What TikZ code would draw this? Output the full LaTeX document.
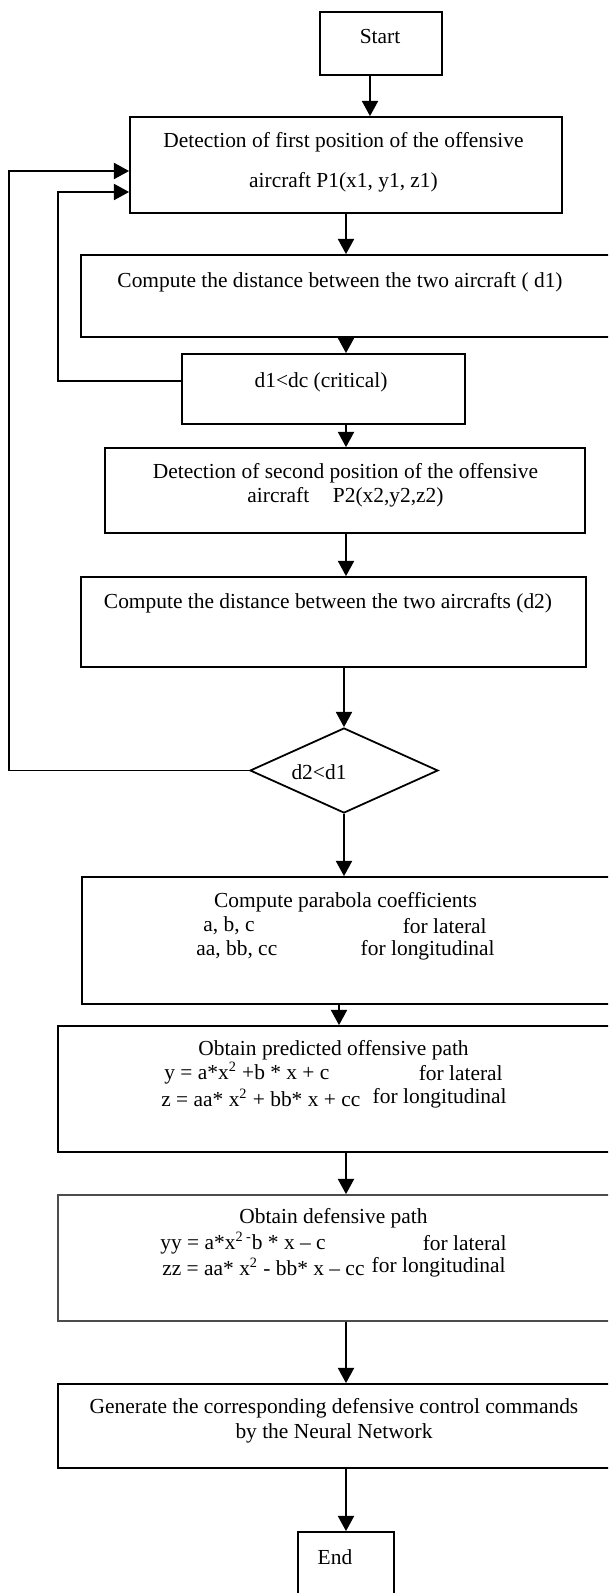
\documentclass[tikz,border=0pt]{standalone}
\usepackage{fontspec}
\setmainfont{Liberation Serif}
\usetikzlibrary{positioning, arrows.meta, shapes.geometric}
\newcommand{\pxu}{0.56pt}

\begin{document}
\begin{tikzpicture}[
		x=\pxu, y=-\pxu,
		box/.style={rectangle, draw, line width=1pt, inner sep=0pt},
		sized/.style 2 args={minimum width=#1*\pxu, minimum height=#2*\pxu},
		decision/.style={diamond, draw, line width=1pt, inner sep=0pt, minimum width=188*\pxu, minimum height=85*\pxu},
		arrow/.style={-{Triangle[length=8.5pt, width=9pt]}, line width=1pt},
		txt/.style={inner sep=0pt, align=center, font=\fontsize{12}{13.5}\selectfont}
		]
		\clip (0,0) rectangle (608,1593);
		% Boxes of the flow
		\node[box, sized={122}{63}] (start) at (381,43.5) {};
		\node[box, sized={432}{96}] (box1) at (346,165) {};
		\node[box, sized={559}{82}] (box2) at (360.5,296) {};
		\node[box, sized={283}{70}] (crit) at (323.5,389) {};
		\node[box, sized={480}{85}] (box3) at (345,490.5) {};
		\node[box, sized={505}{90}] (box4) at (333.5,622) {};
		\node[decision] (dec) at (344,770.5) {};
		\node[box, sized={558}{127}] (box5) at (361,940.5) {};
		\node[box, sized={582}{126}] (box6) at (349,1089) {};
		\node[box, sized={582}{126}, draw=black!70] (box7) at (349,1258) {};
		\node[box, sized={582}{84}] (box8) at (349,1426) {};
		\node[box, sized={96}{88}] (stop) at (346,1576) {};
		% Texts
		\node[txt] (tstart) at (380,37) {Start};
		\node[txt] (t1) at (343.5,162) {Detection of first position of the offensive\\[9pt] aircraft P1(x1, y1, z1)};
		\node[txt] (t2) at (340,282) {Compute the distance between the two aircraft ( d1)};
		\node[txt] (tcrit) at (321,382) {d1<dc (critical)};
		\node[txt] (t3) at (345.5,485) {Detection of second position of the offensive\\ aircraft\hspace{1.1em}P2(x2,y2,z2)};
		\node[txt] (t4) at (328,603) {Compute the distance between the two aircrafts (d2)};
		\node[txt] (tdec) at (319,772) {d2<d1};
		\node[txt] (t5) at (345.5,902) {Compute parabola coefficients};
		\node[txt, anchor=west] (t5a) at (203,926) {a, b, c};
		\node[txt, anchor=east] (t5b) at (487,926) {for lateral};
		\node[txt, anchor=west] (t5c) at (196,950) {aa, bb, cc};
		\node[txt, anchor=east] (t5d) at (495,950) {for longitudinal};
		\node[txt] (t6) at (333.5,1050) {Obtain predicted offensive path};
		\node[txt, anchor=west] (t6a) at (164,1073) {y = a*x\textsuperscript{2} +b * x + c};
		\node[txt, anchor=east] (t6b) at (503,1073) {for lateral};
		\node[txt, anchor=west] (t6c) at (161,1098) {z = aa* x\textsuperscript{2} + bb* x + cc};
		\node[txt, anchor=east] (t6d) at (507,1098) {for longitudinal};
		\node[txt] (t7) at (333.5,1218) {Obtain defensive path};
		\node[txt, anchor=west] (t7a) at (160,1243) {yy = a*x\textsuperscript{2 -}b * x – c};
		\node[txt, anchor=east] (t7b) at (507,1243) {for lateral};
		\node[txt, anchor=west] (t7c) at (162,1267) {zz = aa* x\textsuperscript{2} - bb* x – cc};
		\node[txt, anchor=east] (t7d) at (506,1267) {for longitudinal};
		\node[txt] (t8) at (334,1420.5) {Generate the corresponding defensive control commands\\[0.5pt] by the Neural Network};
		\node[txt] (tstop) at (335,1557) {End};
		% Arrows down the column
		\coordinate (scol) at (370,0);
		\coordinate (col) at (346,0);
		\coordinate (col2) at (339,0);
		\draw[arrow] (start.south -| scol) -- (box1.north -| scol);
		\foreach \a/\b in {box1/box2, box2/crit, crit/box3, box3/box4, box6/box7, box7/box8, box8/stop} {
			\draw[arrow] (\a.south -| col) -- (\b.north -| col);
		}
		\draw[arrow] (box4.south -| dec.north) -- (dec.north);
		\draw[arrow] (dec.south) -- (dec.south |- box5.north);
		\draw[arrow] (box5.south -| col2) -- (box6.north -| col2);
		% Loops back to the first detection
		\coordinate (inner) at (58,192);
		\coordinate (outer) at (9,171);
		\draw[arrow] ([yshift=4.5pt]crit.west) -| (inner) -- (inner -| box1.west);
		\draw[arrow] (dec.west) -| (outer) -- (outer -| box1.west);
	\end{tikzpicture}
\end{document}
